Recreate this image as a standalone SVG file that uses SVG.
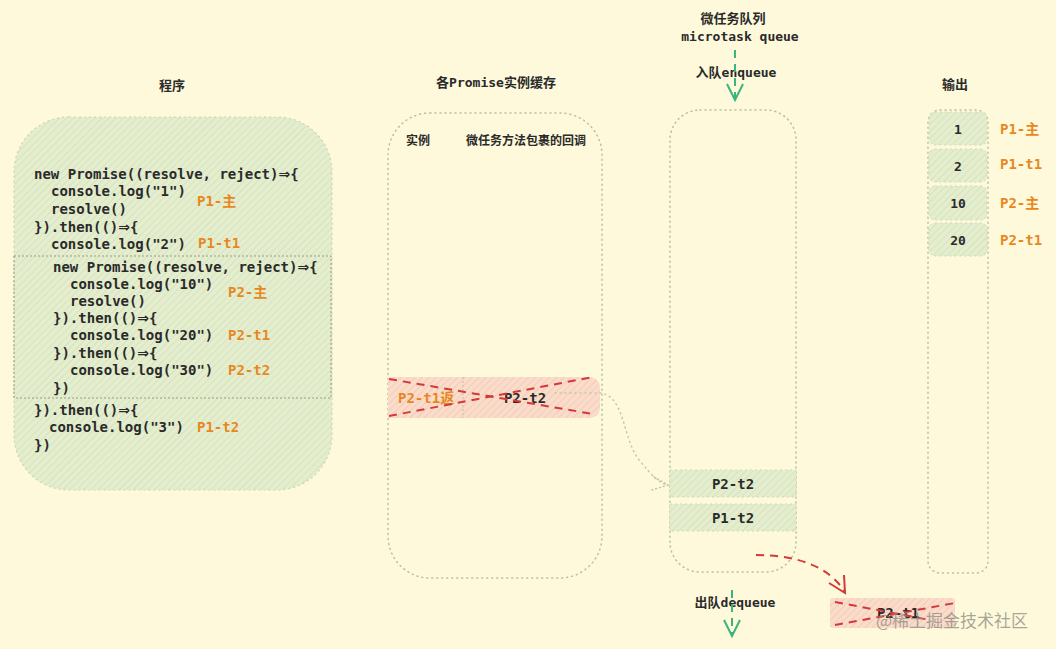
<svg xmlns="http://www.w3.org/2000/svg" width="1056" height="649" viewBox="0 0 1056 649">
  <defs>
    <pattern id="hatchG" patternUnits="userSpaceOnUse" width="5" height="5" patternTransform="rotate(45)">
      <rect width="5" height="5" fill="#e4eecf"/>
      <line x1="0" y1="0" x2="0" y2="5" stroke="#d3e1b8" stroke-width="1.6"/>
    </pattern>
    <pattern id="hatchR" patternUnits="userSpaceOnUse" width="5" height="5" patternTransform="rotate(45)">
      <rect width="5" height="5" fill="#fadcca"/>
      <line x1="0" y1="0" x2="0" y2="5" stroke="#f5c7b2" stroke-width="1.6"/>
    </pattern>
  </defs>
  <style>
    .code{font-family:"DejaVu Sans Mono","Noto Sans CJK SC",monospace;font-size:14px;font-weight:bold;fill:#2a2a2a}
    .arw{font-family:"DejaVu Sans",sans-serif;font-size:14px}
    .lbl{font-family:"DejaVu Sans Mono","Noto Sans CJK SC",monospace;font-size:14px;font-weight:bold;fill:#e8871e}
    .title{font-family:"DejaVu Sans Mono","Noto Sans CJK SC",monospace;font-size:13px;font-weight:bold;fill:#2a2a2a}
    .small{font-family:"Noto Sans CJK SC",sans-serif;font-size:12px;font-weight:bold;fill:#2a2a2a}
    .dots{fill:none;stroke:#b9c0a0;stroke-width:1.5;stroke-dasharray:1 4;stroke-linecap:round}
    .itemG{fill:url(#hatchG);stroke:#cfdbb5;stroke-width:1;stroke-dasharray:2 3}
    .redx{fill:none;stroke:#d23a3a;stroke-width:2;stroke-dasharray:8 6}
    .green{fill:none;stroke:#3bb47e;stroke-width:2;stroke-dasharray:8 6}
  </style>
  <rect width="1056" height="649" fill="#fef9db"/>

  <!-- titles -->
  <g id="titles">
    <text class="title" x="172" y="90" text-anchor="middle">程序</text>
    <text class="title" x="496" y="87" text-anchor="middle">各Promise实例缓存</text>
    <text class="title" x="733" y="23" text-anchor="middle">微任务队列</text>
    <text class="title" x="740" y="41" text-anchor="middle">microtask queue</text>
    <text class="title" x="736" y="77" text-anchor="middle">入队enqueue</text>
    <text class="title" x="955" y="89" text-anchor="middle">输出</text>
    <text class="title" x="735" y="607" text-anchor="middle">出队dequeue</text>
  </g>

  <!-- program code box -->
  <g id="program">
    <rect x="14" y="117" width="318" height="373" rx="55" fill="url(#hatchG)" stroke="#cbd6b0" stroke-width="1.2" stroke-dasharray="2 3"/>
    <rect x="14" y="256" width="317" height="142" fill="none" stroke="#9a9a8a" stroke-width="1" stroke-dasharray="2 2"/>
    <text class="code" x="34" y="179">new Promise((resolve, reject)<tspan class="arw">⇒</tspan>{</text>
    <text class="code" x="51" y="196">console.log("1")</text>
    <text class="code" x="51" y="214">resolve()</text>
    <text class="code" x="34" y="232">}).then(()<tspan class="arw">⇒</tspan>{</text>
    <text class="code" x="51" y="249">console.log("2")</text>
    <text class="code" x="53" y="272">new Promise((resolve, reject)<tspan class="arw">⇒</tspan>{</text>
    <text class="code" x="70" y="289">console.log("10")</text>
    <text class="code" x="70" y="306">resolve()</text>
    <text class="code" x="53" y="323">}).then(()<tspan class="arw">⇒</tspan>{</text>
    <text class="code" x="70" y="340">console.log("20")</text>
    <text class="code" x="53" y="358">}).then(()<tspan class="arw">⇒</tspan>{</text>
    <text class="code" x="70" y="375">console.log("30")</text>
    <text class="code" x="53" y="393">})</text>
    <text class="code" x="34" y="415">}).then(()<tspan class="arw">⇒</tspan>{</text>
    <text class="code" x="49" y="432">console.log("3")</text>
    <text class="code" x="34" y="450">})</text>
    <text class="lbl" x="197" y="206">P1-主</text>
    <text class="lbl" x="198" y="248">P1-t1</text>
    <text class="lbl" x="228" y="297">P2-主</text>
    <text class="lbl" x="228" y="340">P2-t1</text>
    <text class="lbl" x="228" y="375">P2-t2</text>
    <text class="lbl" x="197" y="432">P1-t2</text>
  </g>

  <!-- promise cache -->
  <g id="cache">
    <rect x="388" y="113" width="214" height="465" rx="42" class="dots"/>
    <text class="small" x="418" y="145" text-anchor="middle">实例</text>
    <text class="small" x="526" y="145" text-anchor="middle">微任务方法包裹的回调</text>
  </g>
  <g id="cache-row">
    <path d="M388 377 H590 a10 10 0 0 1 10 10 V408 a10 10 0 0 1 -10 10 H388 Z" fill="url(#hatchR)"/>
    <line x1="463" y1="377" x2="463" y2="418" stroke="#b9c0a0" stroke-width="1" stroke-dasharray="2 2"/>
    <text class="lbl" x="398" y="403">P2-t1返</text>
    <text class="code" x="525" y="403" text-anchor="middle">P2-t2</text>
    <line class="redx" x1="389" y1="379" x2="593" y2="414"/>
    <line class="redx" x1="389" y1="416" x2="593" y2="377"/>
  </g>

  <!-- microtask queue -->
  <g id="queue">
    <rect x="670" y="110" width="126" height="462" rx="30" class="dots"/>
  </g>
  <g id="q-p2t2">
    <rect x="670" y="470" width="126" height="27" class="itemG"/>
    <text class="code" x="733" y="489" text-anchor="middle">P2-t2</text>
  </g>
  <g id="q-p1t2">
    <rect x="670" y="504" width="126" height="27" class="itemG"/>
    <text class="code" x="733" y="523" text-anchor="middle">P1-t2</text>
  </g>

  <!-- output -->
  <g id="output">
    <rect x="928" y="110" width="60" height="463" rx="12" class="dots"/>
  </g>
  <g id="out-1">
    <rect x="929" y="112" width="58" height="33" rx="6" class="itemG"/>
    <text class="title" x="958" y="134" text-anchor="middle">1</text>
    <text class="lbl" x="1000" y="134">P1-主</text>
  </g>
  <g id="out-2">
    <rect x="929" y="149" width="58" height="33" rx="6" class="itemG"/>
    <text class="title" x="958" y="171" text-anchor="middle">2</text>
    <text class="lbl" x="1000" y="169">P1-t1</text>
  </g>
  <g id="out-10">
    <rect x="929" y="186" width="58" height="34" rx="6" class="itemG"/>
    <text class="title" x="958" y="208" text-anchor="middle">10</text>
    <text class="lbl" x="1000" y="208">P2-主</text>
  </g>
  <g id="out-20">
    <rect x="929" y="223" width="58" height="33" rx="6" class="itemG"/>
    <text class="title" x="958" y="245" text-anchor="middle">20</text>
    <text class="lbl" x="1000" y="245">P2-t1</text>
  </g>

  <!-- dequeued item -->
  <g id="dequeued">
    <rect x="830" y="598" width="125" height="30" rx="3" fill="url(#hatchR)"/>
    <text class="code" x="898" y="618" text-anchor="middle">P2-t1</text>
    <line class="redx" x1="835" y1="602" x2="930" y2="620"/>
    <line class="redx" x1="835" y1="625" x2="955" y2="603"/>
  </g>

  <!-- connectors -->
  <g id="connectors">
    <path d="M735 50 V100" class="green"/>
    <path d="M727 84 L735 100 L743 84" fill="none" stroke="#3bb47e" stroke-width="2"/>
    <path d="M732 590 V636" class="green"/>
    <path d="M724 620 L732 636 L740 620" fill="none" stroke="#3bb47e" stroke-width="2"/>
    <path d="M555 393 H600 C626 396 622 440 640 461 C652 476 660 484 668 485" fill="none" stroke="#c3c99f" stroke-width="1.5" stroke-dasharray="1 4" stroke-linecap="round"/>
    <path d="M654 477 L668 485 L652 490" fill="none" stroke="#c3c99f" stroke-width="1.5" stroke-dasharray="1 3" stroke-linecap="round"/>
    <path d="M756 555 C800 555 830 568 845 592" class="redx"/>
    <path d="M829 583 L845 593 L844 575" fill="none" stroke="#d23a3a" stroke-width="2"/>
  </g>

  <text x="876" y="627" font-family="Noto Sans CJK SC,sans-serif" font-size="17" fill="#8a8a80" fill-opacity="0.75">@稀土掘金技术社区</text>
</svg>
